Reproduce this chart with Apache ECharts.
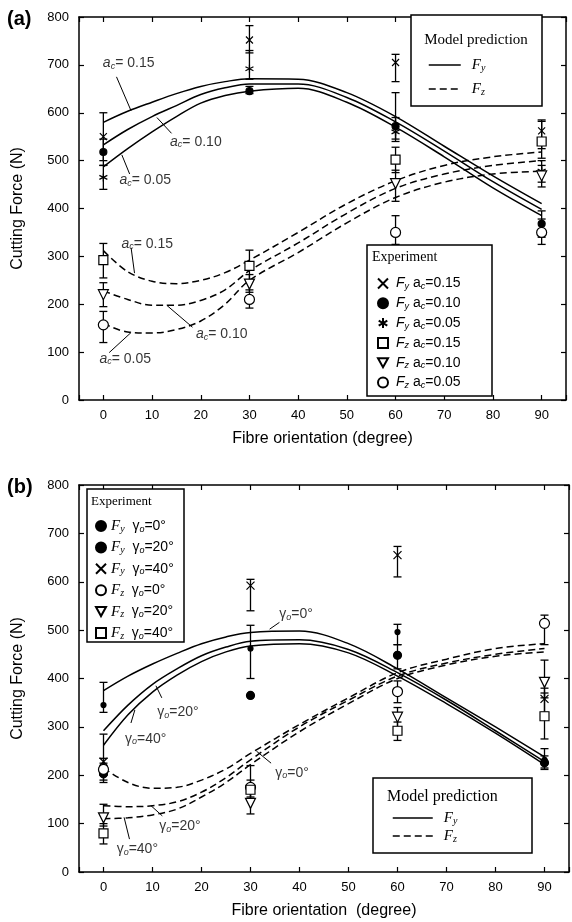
<!DOCTYPE html>
<html lang="en">
<head>
    <meta charset="utf-8"/>
    <title>Cutting force vs fibre orientation</title>
    <script src="https://cdn.jsdelivr.net/npm/echarts@6.0.0/dist/echarts.min.js"></script>
    <style>
        html, body {margin: 0; padding: 0; background: #fff;}
        #echarts {width: 572px; height: 922px;}
    </style>
</head>
<body>
<div id="echarts"></div>
<script type="text/javascript">
    // x positions of the model curves and of the experiments
    var xCurve = [0, 5, 10, 15, 20, 25, 30, 40, 50, 60, 70, 80, 90];
    var xExp = [0, 30, 60, 90];

    // (a) model prediction, a_c = 0.15 / 0.10 / 0.05
    var aFy15 = [580, 603, 622, 640, 655, 665, 671, 670, 642, 592, 530, 468, 410];
    var aFy10 = [533, 565, 592, 615, 638, 652, 660, 660, 632, 581, 520, 456, 398];
    var aFy05 = [487, 525, 560, 592, 620, 636, 645, 651, 622, 570, 508, 443, 385];
    var aFz15 = [312, 268, 248, 243, 250, 266, 292, 350, 410, 458, 490, 508, 518];
    var aFz10 = [228, 210, 198, 198, 208, 230, 270, 328, 390, 442, 472, 490, 500];
    var aFz05 = [160, 142, 140, 147, 165, 200, 250, 308, 370, 423, 455, 472, 478];

    // (a) experiment: value, low end and high end of the error bar
    var aExpFy15 = [550, 752, 705, 562], aLoFy15 = [500, 725, 665, 525], aHiFy15 = [600, 782, 722, 585];
    var aExpFy10 = [518, 645, 572, 368], aLoFy10 = [490, 640, 545, 340], aHiFy10 = [545, 655, 642, 395];
    var aExpFy05 = [465, 692, 560, 478], aLoFy05 = [440, 670, 540, 455], aHiFy05 = [490, 730, 590, 500];
    var aExpFz15 = [292, 280, 502, 540], aLoFz15 = [255, 250, 475, 505], aHiFz15 = [327, 313, 528, 582];
    var aExpFz10 = [220, 242, 452, 468], aLoFz10 = [195, 225, 415, 445], aHiFz10 = [245, 262, 480, 490];
    var aExpFz05 = [157, 210, 350, 350], aLoFz05 = [120, 192, 325, 325], aHiFz05 = [185, 230, 385, 378];

    // (b) model prediction, rake angle 0 / 20 / 40 deg
    var bFy0 = [375, 405, 430, 452, 472, 486, 495, 498, 472, 420, 360, 300, 238];
    var bFy20 = [292, 345, 388, 420, 447, 465, 477, 480, 460, 412, 355, 292, 228];
    var bFy40 = [262, 325, 372, 407, 435, 455, 467, 472, 453, 405, 348, 287, 222];
    var bFz0 = [215, 185, 173, 175, 190, 213, 245, 305, 360, 412, 440, 462, 472];
    var bFz20 = [137, 135, 137, 145, 165, 195, 232, 300, 355, 405, 432, 450, 462];
    var bFz40 = [110, 112, 118, 130, 155, 185, 222, 290, 348, 400, 428, 446, 455];

    // (b) experiment
    var bExpFy0 = [345, 462, 496, 232], bLoFy0 = [330, 400, 470, 215], bHiFy0 = [392, 510, 512, 255];
    var bExpFy20 = [203, 365, 448, 226], bLoFy20 = [185, null, 420, 212], bHiFy20 = [225, null, 470, 240];
    var bExpFy40 = [228, 592, 655, 358], bLoFy40 = [200, 540, 610, 330], bHiFy40 = [285, 605, 673, 380];
    var bExpFz0 = [212, 175, 373, 514], bLoFz0 = [190, 155, 350, 470], bHiFz0 = [235, 220, 395, 531];
    var bExpFz20 = [112, 142, 320, 392], bLoFz20 = [95, 120, 300, 360], bHiFz20 = [140, 170, 340, 438];
    var bExpFz40 = [80, 170, 292, 322], bLoFz40 = [58, 150, 272, 275], bHiFz40 = [100, 190, 310, 370];

    // curve labels: x, y (label centre) and text
    var aNoteX = [5.2, 19, 8.6, 9, 24.3, 4.5];
    var aNoteY = [703, 539, 459, 326, 137, 86];
    var aNoteText = ['0.15', '0.10', '0.05', '0.15', '0.10', '0.05'];
    var aLeaders = [[2.7, 675, 5.7, 604], [11, 590, 14, 557], [3.8, 512, 5.4, 472],
        [5.7, 318, 6.4, 265], [13, 198, 18.3, 152], [1.2, 99, 5.7, 141]];

    var bNoteX = [39.3, 15.2, 8.6, 38.5, 15.6, 6.9];
    var bNoteY = [533, 330, 275, 205, 95, 47];
    var bNoteText = ['0°', '20°', '40°', '0°', '20°', '40°'];
    var bLeaders = [[33.9, 502, 35.9, 516], [10.7, 385, 11.9, 360], [6.4, 335, 5.6, 308],
        [31.2, 250, 34.2, 225], [9.7, 137, 12, 116], [4.2, 113, 5.3, 68]];

    var sans = '"Liberation Sans", Arial, sans-serif';
    var serif = '"Liberation Serif", "Times New Roman", serif';

    var rich = {
        i: {fontStyle: 'italic', fontSize: 14, fontFamily: sans, color: '#000', lineHeight: 16},
        n: {fontSize: 14, fontFamily: sans, color: '#000', lineHeight: 16},
        s: {fontStyle: 'italic', fontSize: 9, fontFamily: sans, color: '#000', lineHeight: 10, padding: [6, 0, 0, 0]},
        fi: {fontStyle: 'italic', fontSize: 15, fontFamily: serif, color: '#000', lineHeight: 16},
        fs: {fontStyle: 'italic', fontSize: 10, fontFamily: serif, color: '#000', lineHeight: 10, padding: [6, 0, 0, 0]}
    };

    var legendText = {
        aFy: '{fi|F}{fs|y}', aFz: '{fi|F}{fs|z}',
        bFy: '{fi|F}{fs|y}', bFz: '{fi|F}{fs|z}',
        ay15: '{i|F}{s|y}{n| a}{s|c}{n|=0.15}', ay10: '{i|F}{s|y}{n| a}{s|c}{n|=0.10}',
        ay05: '{i|F}{s|y}{n| a}{s|c}{n|=0.05}', az15: '{i|F}{s|z}{n| a}{s|c}{n|=0.15}',
        az10: '{i|F}{s|z}{n| a}{s|c}{n|=0.10}', az05: '{i|F}{s|z}{n| a}{s|c}{n|=0.05}',
        by0: '{fi|F}{fs|y}{n|  γ}{s|o}{n|=0°}', by20: '{fi|F}{fs|y}{n|  γ}{s|o}{n|=20°}',
        by40: '{fi|F}{fs|y}{n|  γ}{s|o}{n|=40°}', bz0: '{fi|F}{fs|z}{n|  γ}{s|o}{n|=0°}',
        bz20: '{fi|F}{fs|z}{n|  γ}{s|o}{n|=20°}', bz40: '{fi|F}{fs|z}{n|  γ}{s|o}{n|=40°}'
    };

    var crossSym = 'path://M0,0L10,10M10,0L0,10';
    var starSym = 'path://M5,0L5,10M0.7,2.5L9.3,7.5M0.7,7.5L9.3,2.5';
    var downTri = 'path://M0,0L10,0L5,9Z';

    function pairs(xs, ys) {
        return xs.map(function (x, i) { return [x, ys[i]]; });
    }

    function curve(name, ys, dashed, gi) {
        return {
            type: 'line', name: name, xAxisIndex: gi * 2, yAxisIndex: gi * 2,
            data: pairs(xCurve, ys), smooth: 0.35, symbol: 'none', silent: true, z: 3,
            lineStyle: {color: '#000', width: 1.5, type: dashed ? [7, 4] : 'solid'},
            itemStyle: {color: '#000'}
        };
    }

    function exp(name, ys, sym, size, fill, gi) {
        return {
            type: 'scatter', name: name, xAxisIndex: gi * 2, yAxisIndex: gi * 2,
            data: pairs(xExp, ys), symbol: sym, symbolSize: size, z: 6, silent: true,
            itemStyle: {color: fill, borderColor: '#000', borderWidth: 1.2, opacity: 1}
        };
    }

    function renderErr(params, api) {
        var x = api.value(0);
        var top = api.coord([x, api.value(2)]);
        var bot = api.coord([x, api.value(1)]);
        var w = 4;
        return {
            type: 'group', children: [
                {type: 'line', shape: {x1: top[0], y1: top[1], x2: bot[0], y2: bot[1]}, style: {stroke: '#000', lineWidth: 1.3}},
                {type: 'line', shape: {x1: top[0] - w, y1: top[1], x2: top[0] + w, y2: top[1]}, style: {stroke: '#000', lineWidth: 1.3}},
                {type: 'line', shape: {x1: bot[0] - w, y1: bot[1], x2: bot[0] + w, y2: bot[1]}, style: {stroke: '#000', lineWidth: 1.3}}
            ]
        };
    }

    function err(lo, hi, gi) {
        var d = [];
        xExp.forEach(function (x, i) {
            if (lo[i] != null) d.push([x, lo[i], hi[i]]);
        });
        return {
            type: 'custom', xAxisIndex: gi * 2, yAxisIndex: gi * 2, data: d, silent: true, z: 5,
            encode: {x: 0, y: [1, 2]}, renderItem: renderErr
        };
    }

    function renderLeader(params, api) {
        var p1 = api.coord([api.value(0), api.value(1)]);
        var p2 = api.coord([api.value(2), api.value(3)]);
        return {type: 'line', shape: {x1: p1[0], y1: p1[1], x2: p2[0], y2: p2[1]}, style: {stroke: '#000', lineWidth: 1}};
    }

    function leaders(list, gi) {
        return {
            type: 'custom', xAxisIndex: gi * 2, yAxisIndex: gi * 2, data: list, silent: true, z: 4,
            encode: {x: [0, 2], y: [1, 3]}, renderItem: renderLeader
        };
    }

    function notes(xs, ys, texts, fmt, gi) {
        var d = xs.map(function (x, i) { return {value: [x, ys[i]], name: fmt(texts[i])}; });
        return {
            type: 'scatter', xAxisIndex: gi * 2, yAxisIndex: gi * 2, data: d, symbolSize: 1, silent: true, z: 7,
            itemStyle: {color: 'rgba(0,0,0,0)'},
            label: {show: true, position: 'inside', formatter: function (p) { return p.name; }, rich: rich}
        };
    }

    function xAx(gi, pos, name) {
        var bottom = pos === 'bottom';
        return {
            type: 'value', gridIndex: gi, position: pos, min: -5, max: 95, splitNumber: 10,
            name: bottom ? name : '', nameLocation: 'middle', nameGap: 31,
            nameTextStyle: {fontSize: 16, fontFamily: sans, color: '#000'},
            axisLine: {onZero: false, lineStyle: {color: '#000', width: 1.5}},
            axisTick: {inside: true, length: 5, lineStyle: {color: '#000', width: 1.2}},
            axisLabel: {
                show: bottom, fontSize: 13, fontFamily: sans, color: '#000', margin: 9,
                formatter: function (v) { return v % 10 === 0 ? v : ''; }
            },
            splitLine: {show: false}
        };
    }

    function yAx(gi, pos) {
        var left = pos === 'left';
        return {
            type: 'value', gridIndex: gi, position: pos, min: 0, max: 800, interval: 100,
            name: left ? 'Cutting Force (N)' : '', nameLocation: 'middle', nameGap: 53,
            nameTextStyle: {fontSize: 16, fontFamily: sans, color: '#000'},
            axisLine: {onZero: false, lineStyle: {color: '#000', width: 1.5}},
            axisTick: {inside: true, length: 5, lineStyle: {color: '#000', width: 1.2}},
            axisLabel: {show: left, fontSize: 13, fontFamily: sans, color: '#000', margin: 10},
            splitLine: {show: false}
        };
    }

    function legendFmt(name) { return legendText[name]; }

    var aFmt = function (t) { return '{i|a}{s|c}{n|= ' + t + '}'; };
    var bFmt = function (t) { return '{n|γ}{s|o}{n|=' + t + '}'; };

    var myChart = echarts.init(document.getElementById('echarts'));
    var option = {
        animation: false,
        backgroundColor: '#fff',
        title: [
            {text: '(a)', left: 2, top: 4, textStyle: {fontSize: 20, fontWeight: 'bold', fontFamily: sans, color: '#000'}},
            {text: '(b)', left: 2, top: 472, textStyle: {fontSize: 20, fontWeight: 'bold', fontFamily: sans, color: '#000'}}
        ],
        grid: [
            {left: 79, top: 17, width: 487, height: 383, outerBoundsMode: 'none'},
            {left: 79, top: 485, width: 490, height: 387, outerBoundsMode: 'none'}
        ],
        xAxis: [xAx(0, 'bottom', 'Fibre orientation (degree)'), xAx(0, 'top'),
            xAx(1, 'bottom', 'Fibre orientation  (degree)'), xAx(1, 'top')],
        yAxis: [yAx(0, 'left'), yAx(0, 'right'), yAx(1, 'left'), yAx(1, 'right')],
        legend: [
            {orient: 'vertical', left: 423, top: 52, itemWidth: 32, itemHeight: 12, itemGap: 8, z: 20,
                selectedMode: false, data: ['aFy', 'aFz'], formatter: legendFmt,
                itemStyle: {opacity: 0}, lineStyle: {width: 1.5},
                textStyle: {rich: rich, padding: [0, 0, 0, 6]}},
            {orient: 'vertical', left: 372, top: 271, itemWidth: 10, itemHeight: 10, itemGap: 4.8, z: 20,
                selectedMode: false, data: ['ay15', 'ay10', 'ay05', 'az15', 'az10', 'az05'], formatter: legendFmt,
                textStyle: {rich: rich, padding: [0, 0, 0, 3]}},
            {orient: 'vertical', left: 90, top: 513, itemWidth: 10, itemHeight: 10, itemGap: 5.4, z: 20,
                selectedMode: false, data: ['by0', 'by20', 'by40', 'bz0', 'bz20', 'bz40'], formatter: legendFmt,
                textStyle: {rich: rich}},
            {orient: 'vertical', left: 387, top: 805, itemWidth: 40, itemHeight: 12, itemGap: 2, z: 20,
                selectedMode: false, data: ['bFy', 'bFz'], formatter: legendFmt,
                itemStyle: {opacity: 0}, lineStyle: {width: 1.5},
                textStyle: {rich: rich, padding: [0, 0, 0, 6]}}
        ],
        graphic: [
            {type: 'rect', z: 10, shape: {x: 411, y: 15, width: 131, height: 91}, style: {fill: '#fff', stroke: '#000', lineWidth: 1.5}},
            {type: 'text', z: 11, x: 476, y: 40, style: {text: 'Model prediction', font: '15px ' + serif, align: 'center', verticalAlign: 'middle', fill: '#000'}},
            {type: 'rect', z: 10, shape: {x: 367, y: 245, width: 125, height: 151}, style: {fill: '#fff', stroke: '#000', lineWidth: 1.5}},
            {type: 'text', z: 11, x: 372, y: 257, style: {text: 'Experiment', font: '14px ' + serif, align: 'left', verticalAlign: 'middle', fill: '#000'}},
            {type: 'rect', z: 10, shape: {x: 87, y: 489, width: 97, height: 153}, style: {fill: '#fff', stroke: '#000', lineWidth: 1.5}},
            {type: 'text', z: 11, x: 91, y: 502, style: {text: 'Experiment', font: '13px ' + serif, align: 'left', verticalAlign: 'middle', fill: '#000'}},
            {type: 'rect', z: 10, shape: {x: 373, y: 778, width: 159, height: 75}, style: {fill: '#fff', stroke: '#000', lineWidth: 1.5}},
            {type: 'text', z: 11, x: 387, y: 797, style: {text: 'Model prediction', font: '16px ' + serif, align: 'left', verticalAlign: 'middle', fill: '#000'}}
        ],
        series: [
            curve('aFy', aFy15, false, 0), curve('aFy', aFy10, false, 0), curve('aFy', aFy05, false, 0),
            curve('aFz', aFz15, true, 0), curve('aFz', aFz10, true, 0), curve('aFz', aFz05, true, 0),
            err(aLoFy15, aHiFy15, 0), err(aLoFy10, aHiFy10, 0), err(aLoFy05, aHiFy05, 0),
            err(aLoFz15, aHiFz15, 0), err(aLoFz10, aHiFz10, 0), err(aLoFz05, aHiFz05, 0),
            exp('ay15', aExpFy15, crossSym, 7, '#000', 0),
            exp('ay10', aExpFy10, 'circle', 7, '#000', 0),
            exp('ay05', aExpFy05, starSym, 8, '#000', 0),
            exp('az15', aExpFz15, 'rect', 9, '#fff', 0),
            exp('az10', aExpFz10, downTri, 10, '#fff', 0),
            exp('az05', aExpFz05, 'circle', 10, '#fff', 0),
            leaders(aLeaders, 0),
            notes(aNoteX, aNoteY, aNoteText, aFmt, 0),

            curve('bFy', bFy0, false, 1), curve('bFy', bFy20, false, 1), curve('bFy', bFy40, false, 1),
            curve('bFz', bFz0, true, 1), curve('bFz', bFz20, true, 1), curve('bFz', bFz40, true, 1),
            err(bLoFy0, bHiFy0, 1), err(bLoFy20, bHiFy20, 1), err(bLoFy40, bHiFy40, 1),
            err(bLoFz0, bHiFz0, 1), err(bLoFz20, bHiFz20, 1), err(bLoFz40, bHiFz40, 1),
            exp('by0', bExpFy0, 'circle', 5, '#000', 1),
            exp('by20', bExpFy20, 'circle', 8, '#000', 1),
            exp('by40', bExpFy40, crossSym, 8, '#000', 1),
            exp('bz0', bExpFz0, 'circle', 10, '#fff', 1),
            exp('bz20', bExpFz20, downTri, 10, '#fff', 1),
            exp('bz40', bExpFz40, 'rect', 9, '#fff', 1),
            leaders(bLeaders, 1),
            notes(bNoteX, bNoteY, bNoteText, bFmt, 1)
        ]
    };
    myChart.setOption(option);
</script>
</body>
</html>
